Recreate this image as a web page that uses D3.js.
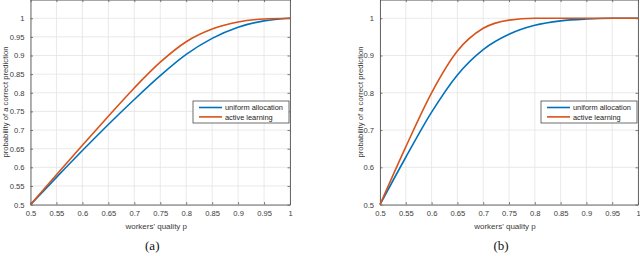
<!DOCTYPE html>
<meta charset="utf-8">
<html>
<body style="margin:0;background:#fff">
<div id="chartContainer"></div>
<script src="https://cdn.jsdelivr.net/npm/d3@7"></script>
<script>
// worker quality p (shared x values)
var quality = [0.5, 0.55, 0.6, 0.65, 0.7, 0.75, 0.8, 0.85, 0.9, 0.95, 1];

// panel (a)
var uniformA = [0.5, 0.573, 0.645, 0.715, 0.782, 0.846, 0.903, 0.946, 0.976, 0.993, 1];
var activeA  = [0.5, 0.580, 0.659, 0.737, 0.813, 0.882, 0.937, 0.971, 0.990, 0.998, 1];

// panel (b)
var uniformB = [0.5, 0.627, 0.748, 0.848, 0.916, 0.957, 0.981, 0.993, 0.998, 1, 1];
var activeB  = [0.5, 0.655, 0.800, 0.912, 0.973, 0.995, 1, 1, 1, 1, 1];

var xTicks = [0.5, 0.55, 0.6, 0.65, 0.7, 0.75, 0.8, 0.85, 0.9, 0.95, 1];
var xTickLabels = ["0.5", "0.55", "0.6", "0.65", "0.7", "0.75", "0.8", "0.85", "0.9", "0.95", "1"];
var yTicksA = [0.5, 0.55, 0.6, 0.65, 0.7, 0.75, 0.8, 0.85, 0.9, 0.95, 1];
var yTickLabelsA = ["0.5", "0.55", "0.6", "0.65", "0.7", "0.75", "0.8", "0.85", "0.9", "0.95", "1"];
var yTicksB = [0.5, 0.6, 0.7, 0.8, 0.9, 1];
var yTickLabelsB = ["0.5", "0.6", "0.7", "0.8", "0.9", "1"];

var seriesNames = ["uniform allocation", "active learning"];
var seriesColors = ["#0072BD", "#D95319"];

var svg = d3.select("#chartContainer").append("svg")
    .attr("width", 640).attr("height", 256);

function drawPanel(left, right, yTicks, yLabels, uniform, active, caption, ylabelX) {
    var x = d3.scaleLinear().domain([0.5, 1]).range([left, right]);
    var y = d3.scaleLinear().domain([0.5, 1.05]).range([204.6, -0.4]);
    var g = svg.append("g");

    // grid
    g.selectAll(".gx").data(xTicks).enter().append("line")
        .attr("x1", d => x(d)).attr("x2", d => x(d))
        .attr("y1", y(0.5)).attr("y2", y(1.05))
        .attr("stroke", "#e3e3e3").attr("stroke-width", 0.8);
    g.selectAll(".gy").data(yTicks).enter().append("line")
        .attr("x1", left).attr("x2", right)
        .attr("y1", d => y(d)).attr("y2", d => y(d))
        .attr("stroke", "#e3e3e3").attr("stroke-width", 0.8);

    // axes with inward ticks on all sides
    var axStyle = function (sel) {
        sel.selectAll("path").attr("stroke", "#5a5a5a").attr("stroke-width", 0.9);
        sel.selectAll("line").attr("stroke", "#5a5a5a").attr("stroke-width", 0.8);
        sel.selectAll("text").attr("fill", "#3a3a3a")
            .style("font-family", "Liberation Sans, Arial, sans-serif").style("font-size", "7.6px");
    };
    g.append("g").attr("transform", "translate(0," + y(0.5) + ")")
        .call(d3.axisBottom(x).tickValues(xTicks).tickFormat((d, i) => xTickLabels[i])
            .tickSizeInner(-2.5).tickSizeOuter(0).tickPadding(6))
        .call(axStyle);
    g.append("g").attr("transform", "translate(" + left + ",0)")
        .call(d3.axisLeft(y).tickValues(yTicks).tickFormat((d, i) => yLabels[i])
            .tickSizeInner(-2.5).tickSizeOuter(0).tickPadding(6))
        .call(axStyle);
    g.append("g").attr("transform", "translate(" + right + ",0)")
        .call(d3.axisRight(y).tickValues(yTicks).tickFormat("")
            .tickSizeInner(-2.5).tickSizeOuter(0))
        .call(axStyle);
    g.append("g").attr("transform", "translate(0," + y(1.05) + ")")
        .call(d3.axisTop(x).tickValues(xTicks).tickFormat("")
            .tickSizeInner(-2.5).tickSizeOuter(0))
        .call(axStyle);

    // curves
    var line = d3.line()
        .x((d, i) => x(quality[i]))
        .y(d => y(d))
        .curve(d3.curveMonotoneX);
    [uniform, active].forEach(function (s, k) {
        g.append("path").attr("d", line(s))
            .attr("fill", "none").attr("stroke", seriesColors[k])
            .attr("stroke-width", 1.6);
    });

    // labels
    var cx = (left + right) / 2;
    g.append("text").attr("x", cx - 4).attr("y", 229)
        .attr("text-anchor", "middle").attr("fill", "#3a3a3a")
        .style("font-family", "Liberation Sans, Arial, sans-serif").style("font-size", "8px")
        .text("workers' quality p");
    g.append("text")
        .attr("transform", "translate(" + ylabelX + ",102) rotate(-90)")
        .attr("text-anchor", "middle").attr("fill", "#3a3a3a")
        .style("font-family", "Liberation Sans, Arial, sans-serif").style("font-size", "7.7px")
        .text("probability of a correct prediction");
    g.append("text").attr("x", cx - 8).attr("y", 250)
        .attr("text-anchor", "middle").attr("fill", "#111")
        .style("font-family", "Liberation Serif, Times New Roman, serif").style("font-size", "13px")
        .text(caption);

    // legend
    var lx = right - 97, ly = 101;
    g.append("rect").attr("x", lx).attr("y", ly).attr("width", 96).attr("height", 22)
        .attr("fill", "#fff").attr("stroke", "#4a4a4a").attr("stroke-width", 0.8);
    seriesNames.forEach(function (name, k) {
        var yy = ly + 6.5 + k * 9.4;
        g.append("line").attr("x1", lx + 6).attr("x2", lx + 29)
            .attr("y1", yy).attr("y2", yy)
            .attr("stroke", seriesColors[k]).attr("stroke-width", 1.6);
        g.append("text").attr("x", lx + 32).attr("y", yy + 2.6)
            .attr("fill", "#222")
            .style("font-family", "Liberation Sans, Arial, sans-serif").style("font-size", "7.4px")
            .text(name);
    });
}

drawPanel(30.5, 290, yTicksA, yTickLabelsA, uniformA, activeA, "(a)", 7.5);
drawPanel(380, 638, yTicksB, yTickLabelsB, uniformB, activeB, "(b)", 362.5);
</script>
</body>
</html>
